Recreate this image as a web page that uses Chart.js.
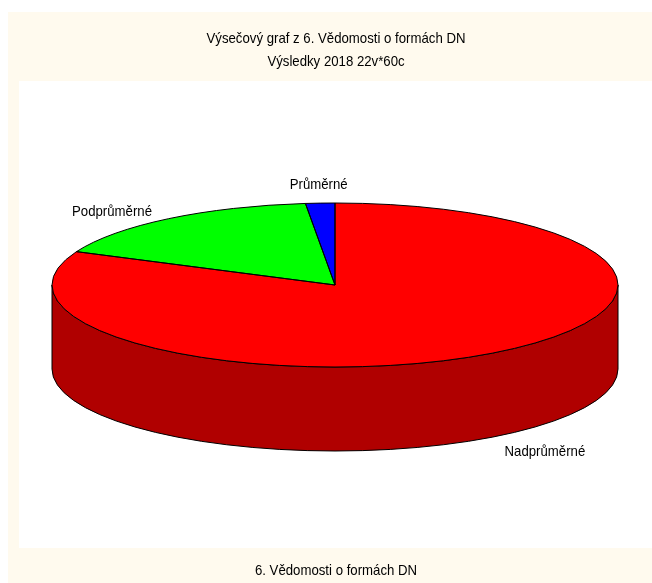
<!DOCTYPE html>
<html>
<head>
<meta charset="utf-8">
<script src="https://cdn.jsdelivr.net/npm/chart.js@4.4.1/dist/chart.umd.min.js"></script>
<style>
  html, body { margin: 0; padding: 0; background: #fff; }
  #wrap { width: 652px; height: 583px; }
</style>
</head>
<body>
<div id="wrap"><canvas id="chart" width="652" height="583"></canvas></div>
<script>
// data (60 pupils in total)
const categories = ['Nadprůměrné', 'Podprůměrné', 'Průměrné']
const counts = [49, 10, 1]
const titleLines = ['Výsečový graf z 6. Vědomosti o formách DN', 'Výsledky 2018 22v*60c']
const axisTitle = '6. Vědomosti o formách DN'

const topColors = ['#ff0000', '#00ff00', '#0000ff']
const sideColors = ['#b00000', '#00a800', '#0000a8']

// geometry of the tilted pie
const PIE = { cx: 335, cy: 285, rx: 283, ry: 82, depth: 84 }
const FONT = '15px "Liberation Sans Narrow", "Arial Narrow", "Liberation Sans", Arial, sans-serif'
const NARROW = 0.88 // no narrow face installed, squeeze the regular one

function narrowText(ctx, txt, x, y){
	ctx.save()
	ctx.translate(x, y)
	ctx.scale(NARROW, 1)
	ctx.fillText(txt, 0, 0)
	ctx.restore()
}

function frontRanges(a0, a1){
	// parts of [a0,a1] that fall in the front half (0..PI, canvas angles)
	const out = []
	for(let k=-2;k<=2;k++){
		const lo = Math.max(a0, k*2*Math.PI), hi = Math.min(a1, k*2*Math.PI + Math.PI)
		if(hi > lo) out.push([lo, hi])
	}
	return out
}

const pie3d = {
	id: 'pie3d',
	beforeDraw(chart){
		const ctx = chart.ctx
		ctx.save()
		ctx.fillStyle = '#fffaee'
		ctx.fillRect(8, 12, 644, 571)
		ctx.fillStyle = '#ffffff'
		ctx.fillRect(19, 81, 633, 467)
		ctx.restore()
	},
	beforeDatasetsDraw(chart){
		const ctx = chart.ctx, meta = chart.getDatasetMeta(0)
		const {cx, cy, rx, ry, depth} = PIE
		ctx.save()
		ctx.lineWidth = 1
		ctx.strokeStyle = '#000'
		meta.data.forEach((arc, i) => {
			frontRanges(arc.startAngle, arc.endAngle).forEach(([s, e]) => {
				ctx.beginPath()
				ctx.ellipse(cx, cy, rx, ry, 0, s, e)
				ctx.ellipse(cx, cy + depth, rx, ry, 0, e, s, true)
				ctx.closePath()
				ctx.fillStyle = sideColors[i]
				ctx.fill()
				ctx.stroke()
			})
		})
		// squash the library's own arcs into the top face
		const a = meta.data[0], R = a.outerRadius
		ctx.translate(cx, cy)
		ctx.scale(rx / R, ry / R)
		ctx.translate(-a.x, -a.y)
	},
	afterDatasetsDraw(chart){
		const ctx = chart.ctx, meta = chart.getDatasetMeta(0)
		const {cx, cy, rx, ry, depth} = PIE
		ctx.restore()
		ctx.save()
		ctx.lineWidth = 1
		ctx.strokeStyle = '#000'
		meta.data.forEach(arc => {
			ctx.beginPath()
			ctx.moveTo(cx, cy)
			ctx.ellipse(cx, cy, rx, ry, 0, arc.startAngle, arc.endAngle)
			ctx.closePath()
			ctx.stroke()
		})
		// slice labels
		ctx.font = FONT
		ctx.fillStyle = '#000'
		meta.data.forEach((arc, i) => {
			const m = (arc.startAngle + arc.endAngle) / 2
			const c = Math.cos(m), s = Math.sin(m)
			const x = cx + c * rx * 1.1
			let y = cy + s * ry * 1.1 + (s > 0 ? depth : 0)
			if(s < -0.95) y -= 3
			ctx.textAlign = c < -0.3 ? 'right' : (c > 0.3 ? 'left' : 'center')
			ctx.textBaseline = s < -0.95 ? 'bottom' : (s > 0.5 ? 'top' : 'middle')
			narrowText(ctx, categories[i], x, y)
		})
		ctx.restore()
	},
	afterDraw(chart){
		const ctx = chart.ctx
		ctx.save()
		ctx.font = FONT
		ctx.fillStyle = '#000'
		ctx.textAlign = 'center'
		ctx.textBaseline = 'middle'
		narrowText(ctx, titleLines[0], 336, 39)
		narrowText(ctx, titleLines[1], 336, 62)
		narrowText(ctx, axisTitle, 336, 571)
		ctx.restore()
	}
}

new Chart(document.getElementById('chart'), {
	type: 'pie',
	data: { labels: categories, datasets: [{ data: counts, backgroundColor: topColors, borderWidth: 0, hoverOffset: 0 }] },
	options: {
		responsive: false,
		animation: false,
		events: [],
		layout: { padding: { top: 100, bottom: 60, left: 40, right: 40 } },
		plugins: { legend: { display: false }, tooltip: { enabled: false }, title: { display: false } }
	},
	plugins: [pie3d]
})
</script>
</body>
</html>
